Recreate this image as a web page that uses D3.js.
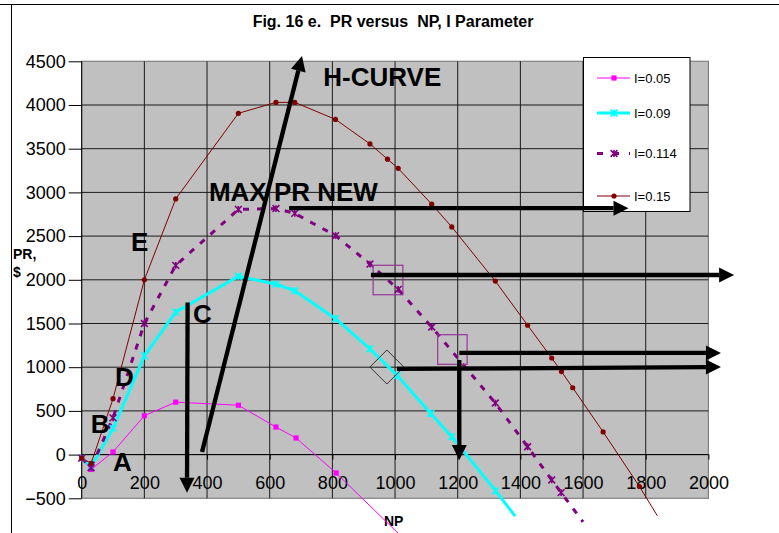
<!DOCTYPE html>
<html>
<head>
<meta charset="utf-8">
<script src="https://cdn.jsdelivr.net/npm/d3@7"></script>
<style>
  body { margin: 0; background: #fff; }
  svg { display: block; font-family: "Liberation Sans", Arial, sans-serif; }
</style>
</head>
<body>
<svg id="chart" width="779" height="533"></svg>
<script>
// ---- data ---------------------------------------------------------------
const npTicks = [0, 200, 400, 600, 800, 1000, 1200, 1400, 1600, 1800, 2000];
const prTicks = [-500, 0, 500, 1000, 1500, 2000, 2500, 3000, 3500, 4000, 4500];
const seriesNames = ["I=0.05", "I=0.09", "I=0.114", "I=0.15"];

const npI005 = [0, 30, 100, 200, 300, 500, 620, 684, 812, 1010];
const prI005 = [-40, -170, 30, 445, 600, 565, 315, 190, -210, -900];

const npI009 = [0, 30, 100, 200, 300, 500, 620, 680, 810, 920, 1007, 1114, 1181, 1321, 1383];
const prI009 = [-40, -140, 300, 1130, 1630, 2040, 1950, 1875, 1555, 1210, 905, 470, 205, -415, -703];

const npI0114 = [0, 30, 100, 200, 300, 500, 620, 680, 810, 920, 1010, 1117, 1320, 1423, 1500, 1530, 1600];
const prI0114 = [-40, -150, 420, 1500, 2165, 2805, 2815, 2760, 2505, 2180, 1890, 1460, 590, 90, -290, -435, -770];

const npI015 = [0, 30, 100, 200, 300, 500, 620, 680, 810, 920, 976, 1010, 1117, 1181, 1320, 1423, 1500, 1531, 1567, 1664, 1780, 1837];
const prI015 = [-40, -100, 640, 2000, 2925, 3905, 4030, 4030, 3835, 3555, 3380, 3275, 2865, 2605, 1985, 1480, 1105, 950, 765, 260, -365, -700];

// annotations, in axis units [NP, PR]
const arrowFrom = [[384, 30], [338, 1740], [662, 2820], [923, 2055], [1205, 1163], [1006, 980], [1205, 1082]];
const arrowTo   = [[703, 4560], [336, -436], [1745, 2820], [2082, 2055], [2040, 1163], [2040, 1002], [1205, -62]];
const noteText = ["H-CURVE", "MAX PR NEW", "E", "D", "B", "A", "C"];
const notePos  = [[771, 4216], [406, 2905], [157, 2329], [106, 785], [29, 247], [100, -188], [355, 1506]];
const boxCorners = [[[930, 2166], [1025, 1829]], [[1136, 1372], [1230, 1033]]];
const diamondAt = [[974, 1002]];

// ---- layout -------------------------------------------------------------
const svg = d3.select("#chart");
const x = d3.scaleLinear().domain([0, 2000]).range([81.7, 708.4]);
const y = d3.scaleLinear().domain([-500, 4500]).range([498.3, 61.3]);

// chart frame
svg.append("line").attr("x1", 0).attr("x2", 779).attr("y1", 4.5).attr("y2", 4.5).attr("stroke", "#000");
svg.append("line").attr("x1", 11.5).attr("x2", 11.5).attr("y1", 4.5).attr("y2", 533).attr("stroke", "#000");

// title
svg.append("text").attr("x", 393).attr("y", 27).attr("text-anchor", "middle")
  .style("font-size", "16px").style("font-weight", "bold").style("white-space", "pre")
  .text("Fig. 16 e.  PR versus  NP, I Parameter");

// plot area
svg.append("rect").attr("x", x(0)).attr("y", y(4500))
  .attr("width", x(2000) - x(0)).attr("height", y(-500) - y(4500))
  .attr("fill", "#C0C0C0").attr("stroke", "#808080").attr("stroke-width", 1.2);

// gridlines
svg.append("g").selectAll("line").data(npTicks.filter(d => d > 0 && d < 2000)).join("line")
  .attr("x1", d => x(d)).attr("x2", d => x(d)).attr("y1", y(4500)).attr("y2", y(-500))
  .attr("stroke", "#1a1a1a").attr("stroke-width", 1);
svg.append("g").selectAll("line").data(prTicks.filter(d => d > -500 && d < 4500)).join("line")
  .attr("x1", x(0)).attr("x2", x(2000)).attr("y1", d => y(d)).attr("y2", d => y(d))
  .attr("stroke", "#1a1a1a").attr("stroke-width", 1);

// axes
const yAxis = svg.append("g").attr("transform", `translate(${x(0)},0)`)
  .call(d3.axisLeft(y).tickValues(prTicks).tickSize(13).tickPadding(3).tickFormat(d3.format("d")));
yAxis.selectAll("text").style("font-size", "18px").attr("fill", "#000").attr("font-family", null);
yAxis.selectAll("line,path").attr("stroke", "#000");
yAxis.select(".domain").attr("d", `M0,${y(-500)}V${y(4500)}`);

const xAxis = svg.append("g").attr("transform", `translate(0,${y(0)})`)
  .call(d3.axisBottom(x).tickValues(npTicks).tickSize(5).tickPadding(17).tickFormat(d3.format("d")));
xAxis.selectAll("text").style("font-size", "18px").attr("fill", "#000").attr("font-family", null);
xAxis.selectAll("line,path").attr("stroke", "#000");
xAxis.select(".domain").attr("d", `M${x(0)},0H${x(2000)}`);

// axis titles
svg.append("text").attr("x", 13).attr("y", 259).style("font-size", "14px").style("font-weight", "bold").text("PR,");
svg.append("text").attr("x", 13).attr("y", 277).style("font-size", "14px").style("font-weight", "bold").text("$");
svg.append("text").attr("x", 384).attr("y", 526).style("font-size", "14px").style("font-weight", "bold").text("NP");

// ---- series -------------------------------------------------------------
const starPath = r => `M${-r},${-r}L${r},${r}M${-r},${r}L${r},${-r}M0,${-r}V${r}`;
const series = [
  { name: seriesNames[0], np: npI005, pr: prI005, color: "#FF00FF", width: 1, dash: null, marker: "square" },
  { name: seriesNames[1], np: npI009, pr: prI009, color: "#00FFFF", width: 3, dash: null, marker: "star" },
  { name: seriesNames[2], np: npI0114, pr: prI0114, color: "#800080", width: 3, dash: "6,8", marker: "star" },
  { name: seriesNames[3], np: npI015, pr: prI015, color: "#800000", width: 1, dash: null, marker: "circle" }
];

const line = d3.line().x(d => x(d[0])).y(d => y(d[1]));

function drawMarker(g, kind, color) {
  if (kind === "square") {
    g.append("rect").attr("x", -2.6).attr("y", -2.6).attr("width", 5.2).attr("height", 5.2).attr("fill", color);
  } else if (kind === "circle") {
    g.append("circle").attr("r", 2.6).attr("fill", color);
  } else {
    g.append("path").attr("d", starPath(3.4)).attr("stroke", color).attr("stroke-width", 1.6).attr("fill", "none");
  }
}

series.forEach(s => {
  const pts = s.np.map((v, i) => [v, s.pr[i]]);
  svg.append("path").datum(pts).attr("d", line)
    .attr("fill", "none").attr("stroke", s.color).attr("stroke-width", s.width)
    .attr("stroke-dasharray", s.dash).attr("stroke-linejoin", "round");
});
series.forEach(s => {
  const pts = s.np.map((v, i) => [v, s.pr[i]]).filter(d => d[1] >= -500);
  svg.append("g").selectAll("g").data(pts).join("g")
    .attr("transform", d => `translate(${x(d[0])},${y(d[1])})`)
    .each(function () { drawMarker(d3.select(this), s.marker, s.color); });
});

// ---- legend -------------------------------------------------------------
const legend = svg.append("g");
legend.append("rect").attr("x", 583.5).attr("y", 57.5).attr("width", 106.5).attr("height", 154)
  .attr("fill", "#fff").attr("stroke", "#000");
const legendRowY = [78, 113, 153.5, 196];
series.forEach((s, i) => {
  const row = legend.append("g").attr("transform", `translate(0,${legendRowY[i]})`);
  row.append("line").attr("x1", 597).attr("x2", 630).attr("y1", 0).attr("y2", 0)
    .attr("stroke", s.color).attr("stroke-width", s.width).attr("stroke-dasharray", s.dash ? "6,10" : null);
  drawMarker(row.append("g").attr("transform", "translate(614,0)"), s.marker, s.color);
  row.append("text").attr("x", 634).attr("y", 4.5).style("font-size", "13px").text(s.name);
});

// ---- annotations --------------------------------------------------------
boxCorners.forEach(b => {
  svg.append("rect").attr("x", x(b[0][0])).attr("y", y(b[0][1]))
    .attr("width", x(b[1][0]) - x(b[0][0])).attr("height", y(b[1][1]) - y(b[0][1]))
    .attr("fill", "none").attr("stroke", "#993399").attr("stroke-width", 1.2);
});
diamondAt.forEach(d => {
  const cx = x(d[0]), cy = y(d[1]), r = 17;
  svg.append("path").attr("d", `M${cx},${cy - r}L${cx + r},${cy}L${cx},${cy + r}L${cx - r},${cy}Z`)
    .attr("fill", "none").attr("stroke", "#333").attr("stroke-width", 1);
});

arrowFrom.forEach((a, i) => {
  const x1 = x(a[0]), y1 = y(a[1]), x2 = x(arrowTo[i][0]), y2 = y(arrowTo[i][1]);
  const ang = Math.atan2(y2 - y1, x2 - x1);
  const len = 15, half = 7.5;
  const bx = x2 - len * Math.cos(ang), by = y2 - len * Math.sin(ang);
  svg.append("line").attr("x1", x1).attr("y1", y1).attr("x2", bx).attr("y2", by)
    .attr("stroke", "#000").attr("stroke-width", 4.3);
  const px = -Math.sin(ang) * half, py = Math.cos(ang) * half;
  svg.append("path").attr("d", `M${x2},${y2}L${bx + px},${by + py}L${bx - px},${by - py}Z`).attr("fill", "#000");
});

noteText.forEach((t, i) => {
  svg.append("text").attr("x", x(notePos[i][0])).attr("y", y(notePos[i][1]))
    .style("font-size", "26px").style("font-weight", "bold").text(t);
});
</script>
</body>
</html>
